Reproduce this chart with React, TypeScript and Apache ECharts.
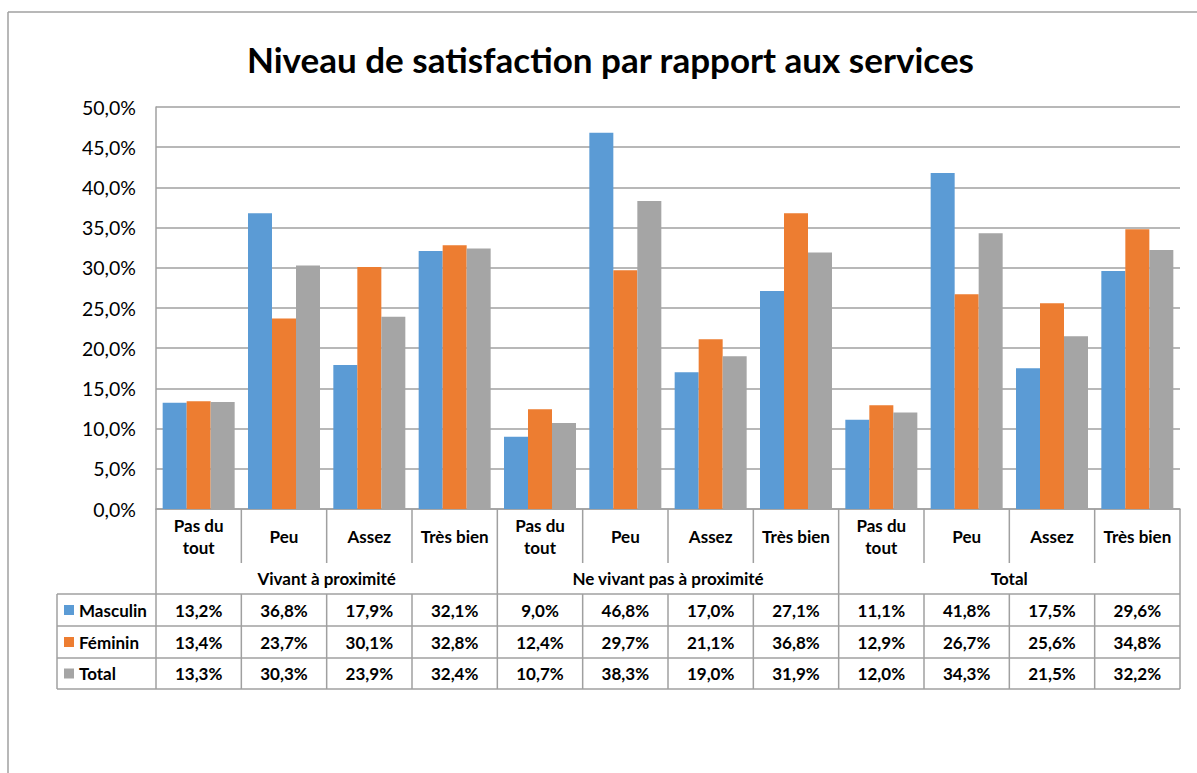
import React, { useEffect, useRef } from "react";
import * as echarts from "echarts";

const levels = ["Pas du\ntout", "Peu", "Assez", "Très bien"];
const groups = ["Vivant à proximité", "Ne vivant pas à proximité", "Total"];
const categories = groups.flatMap((g) => levels.map((l) => l));
const seriesNames = ["Masculin", "Féminin", "Total"];
const masculin = [13.2, 36.8, 17.9, 32.1, 9.0, 46.8, 17.0, 27.1, 11.1, 41.8, 17.5, 29.6];
const feminin = [13.4, 23.7, 30.1, 32.8, 12.4, 29.7, 21.1, 36.8, 12.9, 26.7, 25.6, 34.8];
const total = [13.3, 30.3, 23.9, 32.4, 10.7, 38.3, 19.0, 31.9, 12.0, 34.3, 21.5, 32.2];
const seriesData = [masculin, feminin, total];
const colors = ["#5B9BD5", "#ED7D31", "#A5A5A5"];
const yTicks = [0, 5, 10, 15, 20, 25, 30, 35, 40, 45, 50];

const FONT = "Lato";
const LINE = "#a0a0a0";

const fmt = (v: number) => v.toFixed(1).replace(".", ",") + "%";

export default function App() {
  const ref = useRef<HTMLDivElement>(null);
  useEffect(() => {
    if (!ref.current) return;
    const chart = echarts.init(ref.current, null, { renderer: "svg" });

    const gl = 156, gt = 107, gw = 1024, gh = 402;
    const gb = gt + gh;
    const n = categories.length;
    const cw = gw / n;
    const tableLeft = 57;
    const catRowEnd = 563;
    const rowTops = [594, 626, 658, 689];

    const graphics: any[] = [];
    const line = (x1: number, y1: number, x2: number, y2: number) =>
      graphics.push({
        type: "line",
        shape: { x1, y1, x2, y2 },
        style: { stroke: LINE, lineWidth: 1.5 },
        silent: true,
      });

    // outer frame
    line(8, 12, 1197, 12);
    line(8, 12, 8, 773);

    // table lines
    line(gl, gb, gl, rowTops[3]);
    line(gl + gw, gb, gl + gw, rowTops[3]);
    for (let k = 1; k < n; k++) {
      const x = gl + k * cw;
      if (k % 4 === 0) line(x, gb, x, rowTops[3]);
      else {
        line(x, gb, x, catRowEnd);
        line(x, rowTops[0], x, rowTops[3]);
      }
    }
    rowTops.forEach((y) => line(tableLeft, y, gl + gw, y));
    line(tableLeft, rowTops[0], tableLeft, rowTops[3]);

    // rows
    seriesNames.forEach((name, r) => {
      const yc = (rowTops[r] + rowTops[r + 1]) / 2;
      graphics.push({
        type: "rect",
        shape: { x: 64, y: yc - 5, width: 10, height: 10 },
        style: { fill: colors[r] },
        silent: true,
      });
      graphics.push({
        type: "text",
        x: 79,
        y: yc,
        style: {
          text: name,
          font: `bold 17px ${FONT}`,
          fill: "#000",
          textVerticalAlign: "middle",
          textAlign: "left",
        },
        silent: true,
      });
      seriesData[r].forEach((v, i) => {
        graphics.push({
          type: "text",
          x: gl + (i + 0.5) * cw,
          y: yc,
          style: {
            text: fmt(v),
            font: `bold 17px ${FONT}`,
            fill: "#000",
            textAlign: "center",
            textVerticalAlign: "middle",
          },
          silent: true,
        });
      });
    });

    chart.setOption({
      animation: false,
      title: {
        text: "Niveau de satisfaction par rapport aux services",
        left: 242,
        top: 36,
        textStyle: { fontFamily: FONT, fontWeight: "bold", fontSize: 35, color: "#000" },
      },
      grid: { left: gl, top: gt, width: gw, height: gh, containLabel: false },
      xAxis: [
        {
          type: "category",
          data: categories,
          position: "bottom",
          axisLine: { show: true, lineStyle: { color: LINE, width: 1.5 } },
          axisTick: { show: false },
          axisLabel: {
            interval: 0,
            margin: 27,
            verticalAlign: "middle",
            fontFamily: FONT,
            fontWeight: "bold",
            fontSize: 17,
            lineHeight: 22,
            color: "#000",
          },
        },
        {
          type: "category",
          data: groups,
          position: "bottom",
          axisLine: { show: false },
          axisTick: { show: false },
          axisLabel: {
            interval: 0,
            margin: 69,
            verticalAlign: "middle",
            fontFamily: FONT,
            fontWeight: "bold",
            fontSize: 17,
            color: "#000",
          },
        },
      ],
      yAxis: {
        type: "value",
        min: yTicks[0],
        max: yTicks[yTicks.length - 1],
        interval: 5,
        axisLine: { show: true, lineStyle: { color: LINE, width: 1.5 } },
        axisTick: { show: false },
        splitLine: { show: true, lineStyle: { color: LINE, width: 1.5 } },
        axisLabel: {
          formatter: (v: number) => fmt(v),
          margin: 20,
          fontFamily: FONT,
          fontSize: 19.5,
          color: "#000",
        },
      },
      series: seriesNames.map((name, r) => ({
        name,
        type: "bar",
        data: seriesData[r],
        barWidth: 24,
        barGap: "0%",
        itemStyle: { color: colors[r] },
        xAxisIndex: 0,
      })),
      graphic: graphics,
    });

    return () => chart.dispose();
  }, []);

  return (
    <div
      ref={ref}
      style={{ position: "absolute", left: 0, top: 0, width: 1197, height: 773, background: "#fff" }}
    />
  );
}
